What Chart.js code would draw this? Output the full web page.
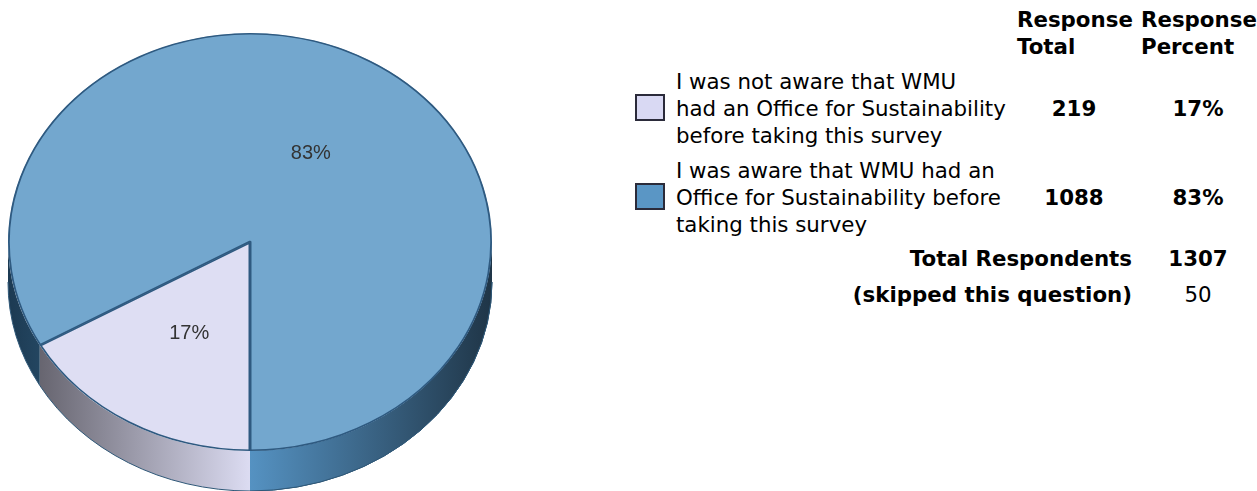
<!DOCTYPE html>
<html>
<head>
<meta charset="utf-8">
<script src="https://cdn.jsdelivr.net/npm/chart.js@4"></script>
<style>
html,body{margin:0;padding:0;background:#fff;width:1257px;height:491px;overflow:hidden}
#wrap{position:absolute;left:0;top:0;width:500px;height:491px}
.t{position:absolute;font-family:"DejaVu Sans",Verdana,sans-serif;font-size:21.33px;line-height:27px;color:#000;white-space:nowrap}
.b{font-weight:bold}
.sw{position:absolute;box-sizing:border-box;width:30px;height:27px;left:635px;border:2px solid #2b2b3a}
</style>
</head>
<body>
<div id="wrap"><canvas id="c" width="500" height="491"></canvas></div>
<div id="side"></div>
<script>
const categories = [
  "I was not aware that WMU\nhad an Office for Sustainability\nbefore taking this survey",
  "I was aware that WMU had an\nOffice for Sustainability before\ntaking this survey"
];
const responseTotals = [219, 1088];
const responsePercents = ["17%", "83%"];
const headers = ["Response\nTotal", "Response\nPercent"];
const totalRespondents = 1307;
const skipped = 50;
const topColors = ["#DEDEF3", "#73A7CE"];
const legendColors = ["#D9D9F3", "#5A96C5"];
const squash = 209 / 242, depth = 40;

const sideGrad = [
  [[0, "#55535c"], [0.5, "#dcdcf2"], [1, "#dcdcf2"]],
  [[0, "#1c3a52"], [0.5, "#5592c2"], [1, "#1f3547"]]
];

const pie3d = {
  id: "pie3d",
  beforeDatasetsDraw(chart) {
    const ctx = chart.ctx, arcs = chart.getDatasetMeta(0).data;
    const { x: cx, y: cy, outerRadius: r } = arcs[0];
    const ry = r * squash;
    arcs.forEach((arc, i) => {
      const g = ctx.createLinearGradient(cx - r, 0, cx + r, 0);
      sideGrad[i].forEach(s => g.addColorStop(s[0], s[1]));
      const ranges = [[arc.startAngle, arc.endAngle], [arc.startAngle - 2 * Math.PI, arc.endAngle - 2 * Math.PI]];
      ranges.forEach(([a0, b0]) => {
        [[0, Math.PI], [2 * Math.PI, 3 * Math.PI]].forEach(([lo, hi]) => {
          const a = Math.max(a0, lo), b = Math.min(b0, hi);
          if (b <= a) return;
          ctx.beginPath();
          ctx.ellipse(cx, cy, r, ry, 0, a, b);
          ctx.ellipse(cx, cy + depth, r, ry, 0, b, a, true);
          ctx.closePath();
          ctx.fillStyle = g;
          ctx.fill();
          ctx.strokeStyle = "#2F5878";
          ctx.lineWidth = 1;
          ctx.beginPath();
          ctx.ellipse(cx, cy + depth, r, ry, 0, a, b);
          ctx.stroke();
        });
      });
    });
    ctx.save();
    ctx.translate(cx, cy);
    ctx.scale(1, squash);
    ctx.translate(-cx, -cy);
  },
  afterDatasetsDraw(chart) {
    const ctx = chart.ctx, arcs = chart.getDatasetMeta(0).data;
    ctx.restore();
    ctx.font = '20px "Liberation Sans", Arial, sans-serif';
    ctx.fillStyle = "#333333";
    ctx.textAlign = "center";
    ctx.textBaseline = "middle";
    arcs.forEach((arc, i) => {
      const mid = (arc.startAngle + arc.endAngle) / 2;
      const x = arc.x + Math.cos(mid) * arc.outerRadius * 0.5;
      const y = arc.y + Math.sin(mid) * arc.outerRadius * 0.5 * squash + 1.5;
      ctx.fillText(responsePercents[i], x, y);
    });
  }
};

new Chart(document.getElementById("c"), {
  type: "pie",
  data: {
    labels: categories.map(c => c.replace(/\n/g, " ")),
    datasets: [{
      data: responseTotals,
      backgroundColor: topColors,
      borderColor: "#2F5A80",
      borderWidth: 1.5,
      borderAlign: "inner"
    }]
  },
  options: {
    responsive: false,
    animation: false,
    rotation: 180,
    layout: { padding: { left: 8, right: 8, top: 0, bottom: 7 } },
    plugins: { legend: { display: false }, tooltip: { enabled: false } }
  },
  plugins: [pie3d]
});

const side = document.getElementById("side");
function put(text, x, y, bold, align) {
  text.split("\n").forEach((line, k) => {
    const d = document.createElement("div");
    d.className = "t" + (bold ? " b" : "");
    d.textContent = line;
    d.style.top = (y + k * 27) + "px";
    if (align === "c") { d.style.left = x + "px"; d.style.transform = "translateX(-50%)"; }
    else if (align === "r") { d.style.right = (1257 - x) + "px"; }
    else d.style.left = x + "px";
    side.appendChild(d);
  });
}
put(headers[0], 1017, 6, true);
put(headers[1], 1141, 6, true);
const rowTop = [68, 157];
categories.forEach((c, i) => {
  put(c, 676, rowTop[i], false);
  const sw = document.createElement("div");
  sw.className = "sw";
  sw.style.top = (rowTop[i] + 26) + "px";
  sw.style.background = legendColors[i];
  side.appendChild(sw);
  put(String(responseTotals[i]), 1074, rowTop[i] + 27, true, "c");
  put(responsePercents[i], 1198, rowTop[i] + 27, true, "c");
});
put("Total Respondents", 1132, 245, true, "r");
put(String(totalRespondents), 1198, 245, true, "c");
put("(skipped this question)", 1132, 281, true, "r");
put(String(skipped), 1198, 281, false, "c");
</script>
</body>
</html>
